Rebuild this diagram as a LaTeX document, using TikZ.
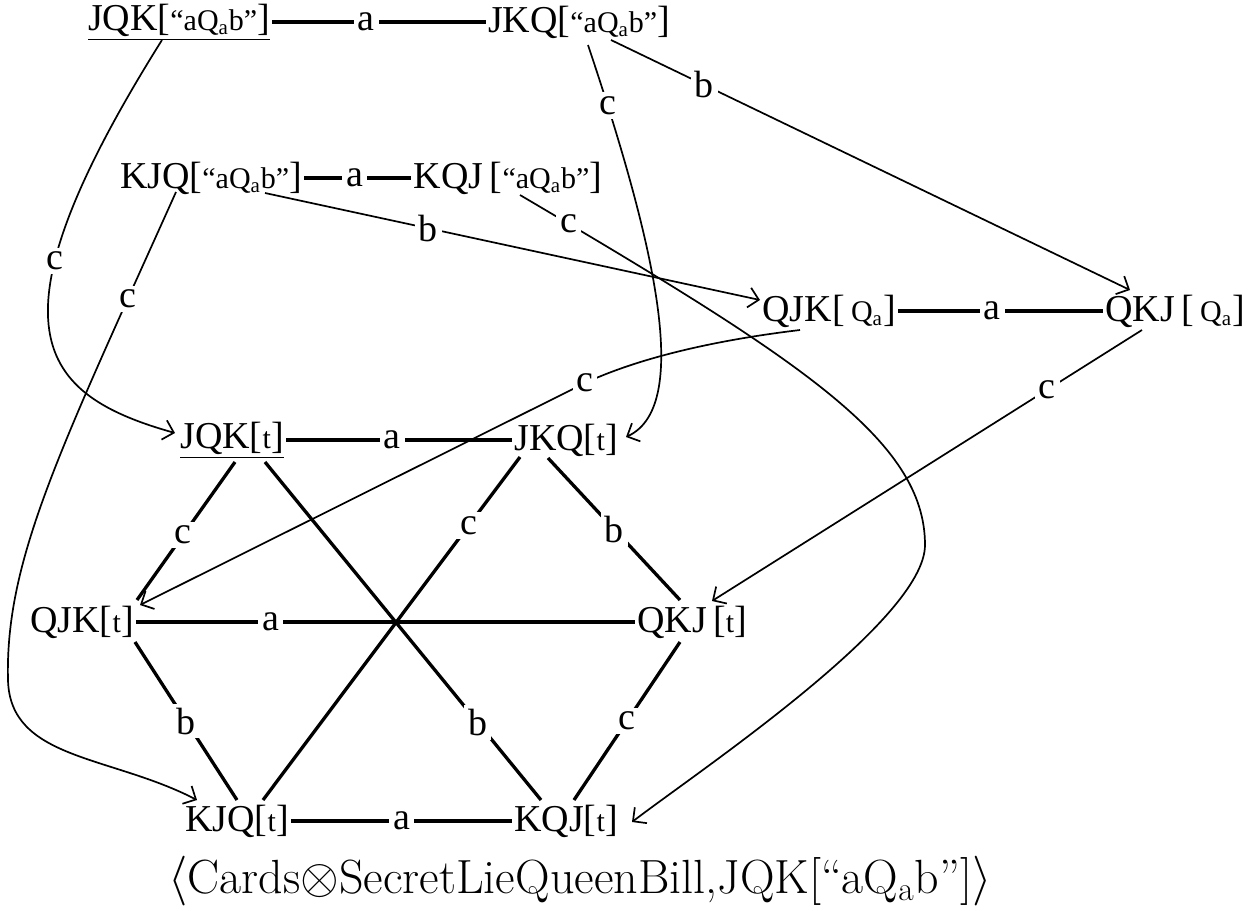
\documentclass[tikz,border=0pt]{standalone}
\usepackage{fontspec}
\usetikzlibrary{arrows.meta,calc}
\newfontfamily\tnr{Liberation Serif}
\newcommand\inr[1]{{\fontsize{15}{17}\selectfont #1}}
\newcommand\qa{Q\textsubscript{a}}
\tikzset{
  wnode/.style={font=\tnr\fontsize{19}{22}\selectfont, inner sep=1pt},
  lbl/.style={font=\tnr\fontsize{19}{22}\selectfont, fill=white, inner sep=2pt},
  thk/.style={line width=1.65pt},
  thn/.style={line width=0.85pt, -{Straight Barb[length=5pt,width=10pt,line width=0.85pt]}},
}
\begin{document}
\begin{tikzpicture}[x=0.5pt,y=-0.5pt]
\useasboundingbox (0,0) rectangle (1254,911);
% nodes
\node[wnode] (tJQK) at (179,22) {\underline{JQK[\inr{“a\qa b”}]}};
\node[wnode] (tJKQ) at (579,22) {JKQ[\inr{“a\qa b”}]};
\node[wnode] (tKJQ) at (211,178) {KJQ[\inr{“a\qa b”}]};
\node[wnode] (tKQJ) at (508,178) {KQJ\,[\inr{“a\qa b”}]};
\node[wnode] (qQJK) at (829,311) {QJK[\,\inr{\qa}]};
\node[wnode] (qQKJ) at (1175,311) {QKJ\,[\,\inr{\qa}]};
\node[wnode] (hJQK) at (232,440) {\underline{JQK[\inr{t}]}};
\node[wnode] (hJKQ) at (566,440) {JKQ[\inr{t}]};
\node[wnode] (hQJK) at (82,622) {QJK[\inr{t}]};
\node[wnode] (hQKJ) at (692,622) {QKJ\,[\inr{t}]};
\node[wnode] (hKJQ) at (237,821) {KJQ[\inr{t}]};
\node[wnode] (hKQJ) at (566,821) {KQJ[\inr{t}]};
\node[inner sep=0pt, font=\fontsize{24}{28}\selectfont] (cap) at (580,881)
  {$\langle$Cards${\otimes}$SecretLieQueenBill,JQK[“aQ$_{\mathrm{a}}$b”]$\rangle$};
% thin arrows
\draw[thn] ($(tJQK.center)+(-17,18)$) .. controls (-20,330) and (40,395) .. node[lbl,pos=.33]{c} ($(hJQK.center)+(-57,-7)$);
\draw[thn] ($(tJKQ.center)+(9,23)$) .. controls (650,230) and (695,405) .. node[lbl,pos=.11]{c} ($(hJKQ.center)+(60,-3)$);
\draw[thn] ($(tJKQ.center)+(32,18)$) -- node[lbl,pos=.18]{b} ($(qQKJ.center)+(-45,-21)$);
\draw[thn] ($(tKJQ.center)+(-35,14)$) .. controls (60,450) and (5,560) .. node[lbl,pos=.15]{c} (8,680)
  .. controls (10,760) and (110,755) .. ($(hKJQ.center)+(-40,-21)$);
\draw[thn] ($(tKJQ.center)+(54,15)$) -- node[lbl,pos=.33]{b} ($(qQJK.center)+(-69,-11)$);
\draw[thn] ($(tKQJ.center)+(12,17)$) .. controls (800,360) and (925,440) .. node[lbl,pos=.06]{c} (925,545)
  .. controls (925,620) and (700,770) .. ($(hKQJ.center)+(66,1)$);
\draw[thn] ($(qQJK.center)+(-29,19)$) .. controls (700,342) and (630,362) .. (585,383) node[lbl]{c}
  -- ($(hQJK.center)+(58,-17)$);
\draw[thn] ($(qQKJ.center)+(-33,19)$) -- node[lbl,pos=.22]{c} ($(hQKJ.center)+(20,-21)$);
% thick edges
\draw[thk] (tJQK.east) -- node[lbl,pos=.44]{a} (tJKQ.west);
\draw[thk] (tKJQ.east) -- node[lbl,pos=.47]{a} (tKQJ.west);
\draw[thk] (qQJK.east) -- node[lbl,pos=.46]{a} (qQKJ.west);
\draw[thk] (hJQK.east) -- node[lbl,pos=.47]{a} (hJKQ.west);
\draw[thk] (hQJK.east) -- node[lbl,pos=.27]{a} (hQKJ.west);
\draw[thk] (hKJQ.east) -- node[lbl,pos=.5]{a} (hKQJ.west);
\draw[thk] ($(hJQK.center)+(3,22)$) -- node[lbl,pos=.53]{c} ($(hQJK.center)+(55,-22)$);
\draw[thk] ($(hJQK.center)+(33,22)$) -- node[lbl,pos=.77]{b} ($(hKQJ.center)+(-25,-21)$);
\draw[thk] ($(hJKQ.center)+(-46,17)$) -- node[lbl,pos=.2]{c} ($(hKJQ.center)+(26,-21)$);
\draw[thk] ($(hJKQ.center)+(-18,18)$) -- node[lbl,pos=.5]{b} ($(hQKJ.center)+(-12,-22)$);
\draw[thk] ($(hQJK.center)+(53,20)$) -- node[lbl,pos=.5]{b} ($(hKJQ.center)+(0,-21)$);
\draw[thk] ($(hQKJ.center)+(-12,20)$) -- node[lbl,pos=.5]{c} ($(hKQJ.center)+(8,-21)$);
\end{tikzpicture}
\end{document}
